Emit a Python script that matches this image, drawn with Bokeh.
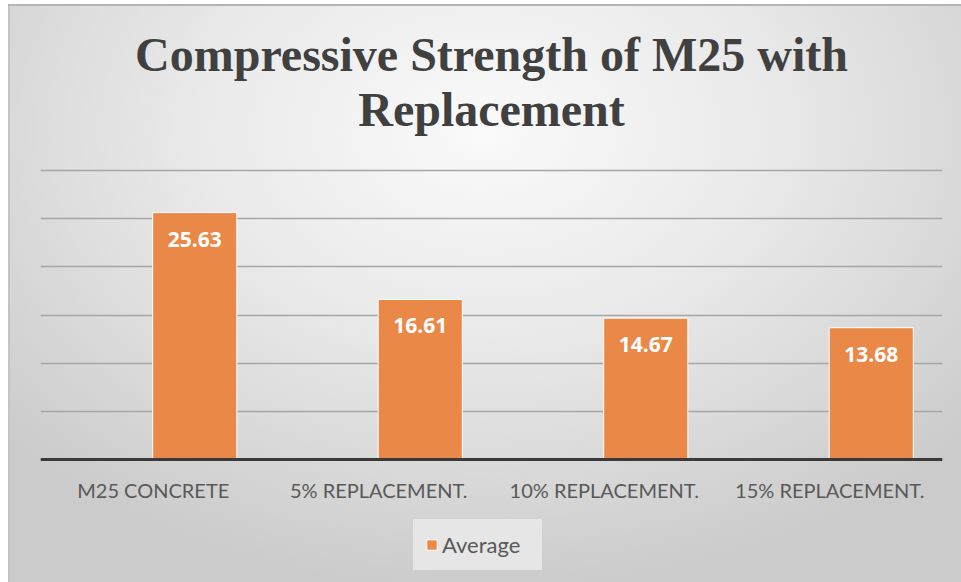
from bokeh.plotting import figure
from bokeh.models import ColumnDataSource, Label, Legend, LegendItem
from bokeh.transform import dodge
from bokeh.core.properties import value
from bokeh.embed import file_html
from bokeh.resources import INLINE

title_lines = ["Compressive Strength of M25 with", "Replacement"]
categories = ["M25 CONCRETE", "5% REPLACEMENT.", "10% REPLACEMENT.", "15% REPLACEMENT."]
average = [25.63, 16.61, 14.67, 13.68]
labels = ["25.63", "16.61", "14.67", "13.68"]
y_ticks = [0, 5, 10, 15, 20, 25, 30]

source = ColumnDataSource(data=dict(cat=categories, avg=average, lab=labels))

# frame covers the whole canvas; value axis runs 0..30 between the gridlines
p = figure(
    width=961, height=582, title=None,
    x_range=categories, y_range=(-12.77, 47.65),
    output_backend="svg", toolbar_location=None,
    min_border_left=40, min_border_right=19,
    min_border_top=0, min_border_bottom=0,
    background_fill_color=None, border_fill_color=None,
    outline_line_color=None,
)
p.styles = {
    "background-color": "#ffffff",
    "background-image": (
        "linear-gradient(#b4b4b4, #b4b4b4), linear-gradient(#c4c4c4, #c4c4c4), "
        "radial-gradient(ellipse 68% 80% at 50% 22%, #fafafa 0%, #e9e9e9 45%, #cbcbcb 100%)"
    ),
    "background-position": "8px 4px, 8px 4px, 8px 4px",
    "background-size": "100% 2px, 2px 100%, calc(100% - 8px) calc(100% - 4px)",
    "background-repeat": "no-repeat",
}
p.x_range.range_padding = 0

title_style = dict(
    x=451, x_units="screen", y_units="screen",
    text_align="center", text_baseline="alphabetic",
    text_font="Liberation Serif", text_font_size="48px",
    text_font_style="bold", text_color="#404040",
)
p.add_layout(Label(y=528, text=title_lines[0], **title_style))
p.add_layout(Label(y=473, text=title_lines[1], **title_style))

bars = p.vbar(
    x=dodge("cat", 0.184, range=p.x_range), top="avg", width=0.373,
    source=source, fill_color="#EA8848", line_color="#ffffff", line_width=1,
)
p.text(
    x=dodge("cat", 0.184, range=p.x_range), y="avg", text="lab", source=source,
    text_align="center", text_baseline="top", y_offset=19,
    text_color="#ffffff", text_font=value("Open Sans"),
    text_font_size="21px", text_font_style="bold",
)

p.yaxis.visible = False
p.ygrid.ticker = y_ticks
p.ygrid.grid_line_color = "#a6a6a6"
p.ygrid.grid_line_width = 1.5
p.xgrid.grid_line_color = None

p.xaxis.fixed_location = 0
p.xaxis.axis_line_color = "#3a3a3a"
p.xaxis.axis_line_width = 3
p.xaxis.major_tick_line_color = None
p.xaxis.minor_tick_line_color = None
p.xaxis.major_tick_out = 0
p.xaxis.major_tick_in = 0
p.xaxis.major_label_standoff = 19
p.xaxis.major_label_text_font = "Lato"
p.xaxis.major_label_text_font_size = "20px"
p.xaxis.major_label_text_color = "#595959"

legend = Legend(
    items=[LegendItem(label="Average", renderers=[bars])],
    location=(373, 12),
    orientation="horizontal",
    background_fill_color="#e6e6e6", background_fill_alpha=1,
    border_line_color="#e6e6e6", border_line_width=2,
    label_text_font="Lato", label_text_font_size="22px",
    label_text_color="#595959",
    glyph_width=13, glyph_height=13, label_standoff=4,
    label_width=88, label_height=25,
    padding=10, margin=0,
)
p.add_layout(legend, "center")

open("out.html", "w").write(file_html(p, INLINE))
